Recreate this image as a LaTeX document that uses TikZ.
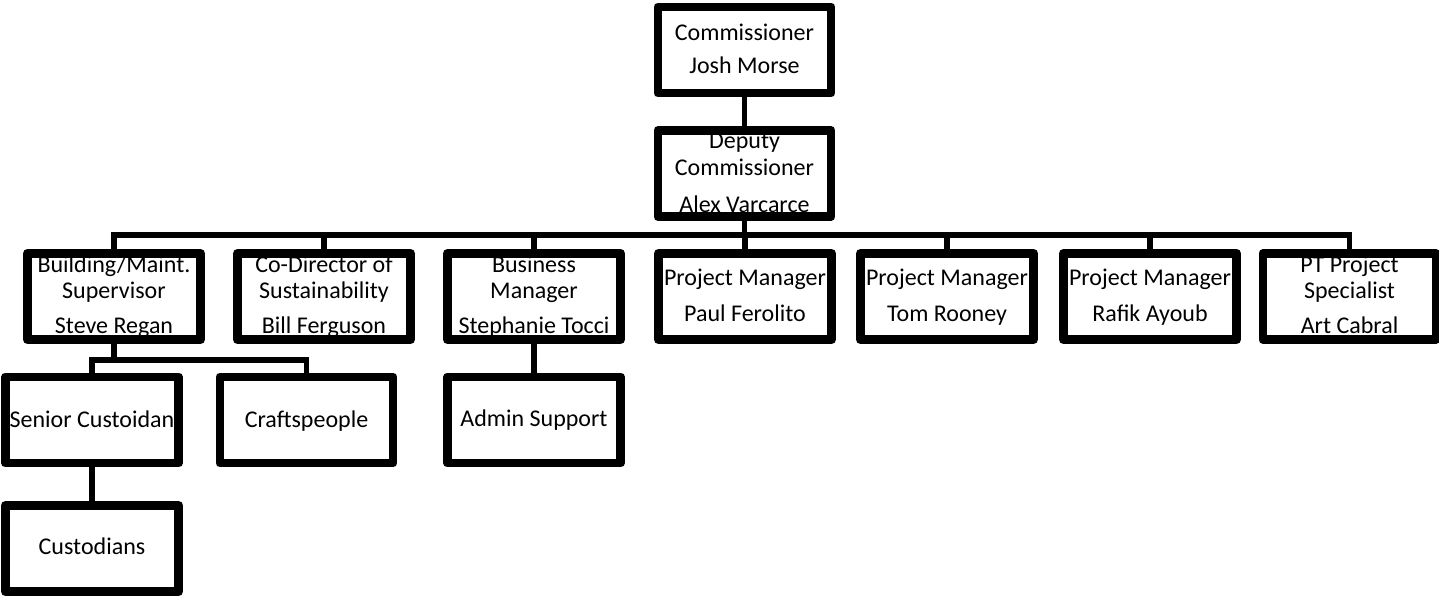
\documentclass[tikz,border=0pt]{standalone}
\usepackage{fontspec}
\newfontfamily\orgfont{Carlito}
\usetikzlibrary{calc,shadows}
\pgfdeclarelayer{background}
\pgfsetlayers{background,main}
\begin{document}
\begin{tikzpicture}[x=1pt,y=-1pt,
  box/.style={rectangle, minimum width=173pt, minimum height=86pt, inner sep=0pt,
    fill=white, drop shadow={shadow xshift=1.5pt, shadow yshift=-2.5pt, opacity=0.25, fill=black}},
  frame/.style={draw=black, line width=8.5pt, line join=round},
  wire/.style={draw=black, line width=5.5pt},
  txt/.style={anchor=base, inner sep=0pt, font=\orgfont\fontsize{24}{26}\selectfont}]
\useasboundingbox (0,0) rectangle (1439,598);

% boxes
\node[box] (comm) at (744.5,50) {};
\node[box] (dep) at (744.5,173.5) {};
\node[box] (bld) at (114,296.5) {};
\node[box] (codir) at (324,296.5) {};
\node[box] (biz) at (534,296.5) {};
\node[box] (paul) at (745,296.5) {};
\node[box] (tom) at (947,296.5) {};
\node[box] (rafik) at (1150,296.5) {};
\node[box] (pt) at (1349.5,296.5) {};
\node[box] (senior) at (92,420) {};
\node[box] (craft) at (306.5,420) {};
\node[box] (admin) at (534,420) {};
\node[box] (cust) at (92,548.5) {};

% connectors
\coordinate (trunk) at (0,235);
\coordinate (split) at (0,360);
\begin{pgfonlayer}{background}
  \draw[wire] (comm.south) -- (dep.north);
  \foreach \c in {bld,codir,biz,paul,tom,rafik,pt}
    \draw[wire] (dep.south) |- (\c.north |- trunk) -- (\c.north);
  \foreach \c in {senior,craft}
    \draw[wire] (bld.south) |- (\c.north |- split) -- (\c.north);
  \draw[wire] (biz.south) -- (admin.north);
  \draw[wire] (senior.south) -- (cust.north);
\end{pgfonlayer}

% texts
\node[txt] (comm-1) at ($(comm)+(0,-10)$) {Commissioner};
\node[txt] (comm-2) at ($(comm)+(0,23)$) {Josh Morse};

\node[txt] (dep-1) at ($(dep)+(0,-25.5)$) {Deputy};
\node[txt] (dep-2) at ($(dep)+(0,1.5)$) {Commissioner};
\node[txt] (dep-3) at ($(dep)+(0,38.5)$) {Alex Varcarce};

\node[txt] (bld-1) at ($(bld)+(0,-24.5)$) {Building/Maint.};
\node[txt] (bld-2) at ($(bld)+(0,1.5)$) {Supervisor};
\node[txt] (bld-3) at ($(bld)+(0,36.5)$) {Steve Regan};

\node[txt] (codir-1) at ($(codir)+(0,-24.5)$) {Co-Director of};
\node[txt] (codir-2) at ($(codir)+(0,1.5)$) {Sustainability};
\node[txt] (codir-3) at ($(codir)+(0,36.5)$) {Bill Ferguson};

\node[txt] (biz-1) at ($(biz)+(0,-24.5)$) {Business};
\node[txt] (biz-2) at ($(biz)+(0,1.5)$) {Manager};
\node[txt] (biz-3) at ($(biz)+(0,36.5)$) {Stephanie Tocci};

\node[txt] (paul-1) at ($(paul)+(0,-11.5)$) {Project Manager};
\node[txt] (paul-2) at ($(paul)+(0,24.5)$) {Paul Ferolito};

\node[txt] (tom-1) at ($(tom)+(0,-11.5)$) {Project Manager};
\node[txt] (tom-2) at ($(tom)+(0,24.5)$) {Tom Rooney};

\node[txt] (rafik-1) at ($(rafik)+(0,-11.5)$) {Project Manager};
\node[txt] (rafik-2) at ($(rafik)+(0,24.5)$) {Rafik Ayoub};

\node[txt] (pt-1) at ($(pt)+(0,-24.5)$) {PT Project};
\node[txt] (pt-2) at ($(pt)+(0,1.5)$) {Specialist};
\node[txt] (pt-3) at ($(pt)+(0,36.5)$) {Art Cabral};

\node[txt] (senior-1) at ($(senior)+(0,7)$) {Senior Custoidan};
\node[txt] (craft-1) at ($(craft)+(0,7)$) {Craftspeople};
\node[txt] (admin-1) at ($(admin)+(0,6)$) {Admin Support};
\node[txt] (cust-1) at ($(cust)+(0,5.5)$) {Custodians};

% thick frames drawn over the texts
\foreach \n in {comm,dep,bld,codir,biz,paul,tom,rafik,pt,senior,craft,admin,cust}
  \draw[frame] (\n.north west) rectangle (\n.south east);
\end{tikzpicture}
\end{document}
